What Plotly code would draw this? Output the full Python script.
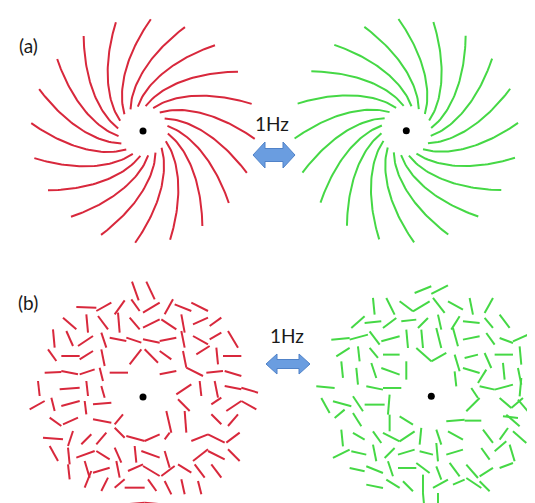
import math
import plotly.graph_objects as go

W, H = 535, 503

# ---------------- data ----------------
panel_labels = ["(a)", "(b)"]
freq_label = "1Hz"

# panel (a): spiral arms, outer-end angle of each arm (deg, screen coords, y down)
arm_outer_angles = [-104, -86, -68, -50, -32, -14, 4, 22, 40, 58,
                    76, 94, 112, 130, 148, 166, 184, 202, 220, 238]
arm_inner_radius = 25
arm_outer_radius = 112
arm_turn_deg = 52

spiral_centers = {"red": (135, 123), "green": (398.3, 122.7)}

# panel (b): short segments, endpoints read from a 3x magnified view of the reference
red_seg_ref_center = (405, 418)
red_segments = [
    (372, 72, 392, 128), (415, 72, 440, 125), (205, 148, 265, 150), (265, 160, 310, 135),
    (320, 170, 350, 128), (370, 125, 395, 160), (405, 165, 455, 135), (470, 170, 495, 125),
    (500, 140, 550, 160), (550, 135, 600, 160), (165, 180, 205, 215), (235, 170, 240, 225),
    (270, 175, 300, 215), (330, 165, 335, 225), (365, 180, 395, 215), (405, 210, 455, 185),
    (460, 185, 505, 215), (520, 170, 530, 225), (555, 200, 600, 180), (605, 205, 640, 180),
    (135, 215, 140, 270), (175, 220, 195, 265), (210, 265, 255, 235), (280, 225, 295, 270),
    (305, 240, 355, 250), (355, 240, 400, 255), (405, 245, 455, 255), (455, 250, 505, 240),
    (520, 220, 530, 270), (555, 235, 600, 260), (605, 245, 640, 225), (660, 220, 690, 270),
    (120, 275, 145, 310), (160, 295, 215, 295), (215, 305, 255, 280), (280, 275, 290, 325),
    (365, 320, 400, 275), (410, 275, 450, 315), (455, 280, 490, 305), (525, 280, 535, 330),
    (565, 290, 605, 265), (625, 270, 630, 320), (645, 295, 700, 295), (110, 345, 160, 343),
    (160, 340, 210, 350), (215, 350, 260, 335), (275, 330, 285, 370), (305, 345, 360, 345),
    (455, 350, 505, 340), (535, 330, 585, 355), (595, 345, 645, 340), (650, 340, 700, 355),
    (90, 370, 95, 415), (155, 395, 215, 390), (235, 370, 240, 415), (280, 385, 290, 420),
    (505, 410, 550, 380), (575, 370, 580, 415), (620, 370, 630, 420), (650, 385, 700, 395),
    (700, 390, 750, 405), (65, 455, 110, 430), (130, 420, 140, 460), (160, 445, 215, 430),
    (230, 430, 235, 470), (255, 440, 310, 435), (510, 425, 545, 460), (610, 440, 640, 420),
    (655, 460, 700, 430), (700, 430, 745, 455), (125, 480, 160, 505), (165, 500, 210, 480),
    (255, 485, 310, 495), (320, 500, 345, 470), (475, 460, 490, 525), (530, 460, 535, 525),
    (610, 470, 640, 500), (660, 505, 690, 470), (105, 540, 165, 545), (180, 565, 195, 520),
    (220, 560, 250, 530), (265, 560, 295, 525), (320, 510, 350, 540), (355, 535, 410, 550),
    (410, 550, 455, 530), (470, 545, 485, 525), (550, 550, 600, 530), (600, 530, 650, 555),
    (655, 555, 695, 525), (125, 565, 150, 610), (180, 570, 185, 620), (205, 600, 260, 580),
    (265, 580, 305, 605), (320, 570, 340, 615), (380, 565, 385, 615), (400, 580, 455, 600),
    (470, 580, 485, 630), (555, 610, 600, 575), (600, 580, 650, 605), (660, 575, 695, 610),
    (180, 620, 185, 665), (230, 610, 245, 660), (255, 645, 305, 630), (325, 610, 335, 660),
    (360, 640, 405, 620), (405, 625, 455, 655), (460, 655, 500, 625), (510, 620, 550, 645),
    (560, 620, 590, 660), (610, 620, 640, 660), (230, 690, 250, 640), (280, 700, 300, 660),
    (320, 690, 350, 665), (350, 690, 410, 690), (420, 665, 445, 700), (470, 670, 490, 710),
    (520, 665, 530, 710), (570, 670, 580, 710), (355, 740, 410, 735), (410, 735, 460, 740),
]

green_seg_ref_center = (475, 415)
green_segments = [
    (425, 105, 475, 85), (475, 108, 525, 82), (300, 120, 305, 170), (340, 120, 365, 170),
    (380, 130, 420, 160), (420, 160, 470, 130), (480, 120, 515, 165), (525, 130, 570, 155),
    (590, 120, 600, 170), (635, 165, 660, 120), (235, 210, 275, 175), (275, 195, 325, 190),
    (330, 210, 370, 180), (385, 190, 430, 185), (435, 210, 465, 180), (495, 170, 505, 215),
    (535, 215, 560, 175), (570, 190, 620, 195), (635, 180, 660, 210), (680, 170, 710, 210),
    (175, 245, 230, 240), (230, 245, 285, 230), (290, 220, 320, 260), (325, 250, 380, 235),
    (400, 215, 405, 270), (445, 215, 450, 270), (490, 210, 505, 270), (540, 210, 555, 265),
    (570, 245, 620, 235), (640, 225, 665, 260), (680, 240, 720, 255), (720, 250, 765, 230),
    (190, 295, 230, 270), (255, 265, 260, 310), (290, 270, 315, 300), (330, 290, 380, 290),
    (430, 270, 475, 310), (475, 310, 520, 285), (545, 290, 560, 340), (575, 300, 615, 290),
    (635, 285, 655, 330), (665, 290, 720, 290), (740, 265, 745, 320), (205, 310, 210, 360),
    (250, 330, 255, 380), (295, 315, 310, 360), (325, 330, 380, 350), (400, 310, 400, 365),
    (545, 340, 550, 385), (570, 330, 620, 345), (640, 335, 615, 375), (690, 315, 695, 365),
    (735, 330, 745, 380), (130, 385, 185, 390), (280, 385, 330, 395), (330, 390, 385, 390),
    (595, 390, 615, 420), (620, 385, 665, 395), (665, 395, 720, 380), (745, 360, 740, 415),
    (790, 360, 780, 415), (145, 420, 170, 465), (180, 430, 235, 445), (240, 415, 270, 460),
    (275, 440, 335, 440), (350, 410, 345, 470), (580, 460, 620, 420), (680, 420, 715, 450),
    (715, 450, 750, 420), (735, 425, 765, 460), (185, 480, 215, 455), (240, 465, 265, 505),
    (350, 470, 350, 520), (380, 475, 420, 500), (520, 490, 575, 485), (575, 488, 625, 488),
    (690, 475, 735, 480), (700, 470, 740, 505), (205, 515, 210, 565), (240, 525, 275, 545),
    (300, 520, 325, 555), (330, 525, 380, 550), (380, 550, 425, 520), (445, 510, 440, 560),
    (490, 515, 505, 560), (525, 520, 570, 545), (630, 515, 660, 555), (680, 545, 705, 510),
    (720, 520, 760, 555), (180, 600, 230, 575), (235, 580, 280, 590), (300, 560, 310, 610),
    (335, 600, 365, 570), (375, 590, 425, 575), (440, 580, 480, 590), (490, 555, 495, 610),
    (520, 590, 570, 575), (625, 570, 650, 605), (665, 580, 700, 550), (710, 560, 725, 610),
    (230, 630, 275, 640), (280, 625, 330, 645), (345, 610, 360, 655), (375, 630, 430, 630),
    (430, 615, 470, 645), (490, 625, 505, 665), (530, 615, 560, 655), (580, 620, 615, 660),
    (620, 655, 660, 630), (680, 630, 720, 615), (280, 680, 330, 690), (340, 665, 380, 690),
    (390, 670, 420, 700), (450, 650, 450, 705), (450, 705, 455, 760), (480, 690, 525, 665),
    (540, 680, 575, 665), (580, 660, 625, 690), (495, 705, 495, 760), (620, 670, 650, 700),
]

disk_centers = {"red": (135, 389), "green": (423.3, 388.3)}
ref_scale = 3.0

RED = "#d8283c"
GREEN = "#45d845"

# ---------------- build ----------------
fig = go.Figure()


def spiral_trace(center, color, mirror):
    cx, cy = center
    xs, ys = [], []
    n = 40
    lnratio = math.log(arm_outer_radius / arm_inner_radius)
    for phi in arm_outer_angles:
        for i in range(n + 1):
            r = arm_inner_radius + (arm_outer_radius - arm_inner_radius) * i / n
            s = math.log(r / arm_inner_radius) / lnratio
            th = math.radians(phi - arm_turn_deg * (1 - s))
            dx = r * math.cos(th)
            dy = r * math.sin(th)
            if mirror:
                dx = -dx
            xs.append(cx + dx)
            ys.append(cy + dy)
        xs.append(None)
        ys.append(None)
    return go.Scatter(x=xs, y=ys, mode="lines", line=dict(color=color, width=2),
                      hoverinfo="skip", showlegend=False)


def segment_trace(segs, ref_center, center, color):
    rx, ry = ref_center
    cx, cy = center
    xs, ys = [], []
    for x0, y0, x1, y1 in segs:
        xs += [cx + (x0 - rx) / ref_scale, cx + (x1 - rx) / ref_scale, None]
        ys += [cy + (y0 - ry) / ref_scale, cy + (y1 - ry) / ref_scale, None]
    return go.Scatter(x=xs, y=ys, mode="lines", line=dict(color=color, width=2),
                      hoverinfo="skip", showlegend=False)


fig.add_trace(spiral_trace(spiral_centers["red"], RED, False))
fig.add_trace(spiral_trace(spiral_centers["green"], GREEN, True))
fig.add_trace(segment_trace(red_segments, red_seg_ref_center, disk_centers["red"], RED))
fig.add_trace(segment_trace(green_segments, green_seg_ref_center, disk_centers["green"], GREEN))

dots = [spiral_centers["red"], spiral_centers["green"], disk_centers["red"], disk_centers["green"]]
fig.add_trace(go.Scatter(x=[d[0] for d in dots], y=[d[1] for d in dots], mode="markers",
                         marker=dict(color="black", size=7), hoverinfo="skip", showlegend=False))


def arrow_path(cx, cy, hw, head, sh, hh):
    pts = [(cx - hw, cy), (cx - hw + head, cy - hh), (cx - hw + head, cy - sh),
           (cx + hw - head, cy - sh), (cx + hw - head, cy - hh), (cx + hw, cy),
           (cx + hw - head, cy + hh), (cx + hw - head, cy + sh), (cx - hw + head, cy + sh),
           (cx - hw + head, cy + hh)]
    return "M " + " L ".join(f"{x},{y}" for x, y in pts) + " Z"


arrows = [(266, 147, 21, 12, 6.5, 13), (280, 356, 22, 11, 4.5, 10)]
for a in arrows:
    fig.add_shape(type="path", path=arrow_path(*a), xref="x", yref="y",
                  fillcolor="#6a9de0", line=dict(color="#5082c8", width=1))

font = dict(family="Lato, Open Sans, sans-serif", size=19, color="#1a1a1a")
fig.add_annotation(x=20, y=37, text=panel_labels[0], showarrow=False, font=font)
fig.add_annotation(x=20, y=294, text=panel_labels[1], showarrow=False, font=font)
fig.add_annotation(x=264, y=115, text=freq_label, showarrow=False, font=font)
fig.add_annotation(x=279, y=327, text=freq_label, showarrow=False, font=font)

fig.update_layout(
    width=W, height=H, margin=dict(l=0, r=0, t=0, b=0),
    paper_bgcolor="white", plot_bgcolor="white",
    xaxis=dict(range=[0, W], visible=False, fixedrange=True),
    yaxis=dict(range=[H, 0], visible=False, fixedrange=True),
)

fig.write_html("out.html")
